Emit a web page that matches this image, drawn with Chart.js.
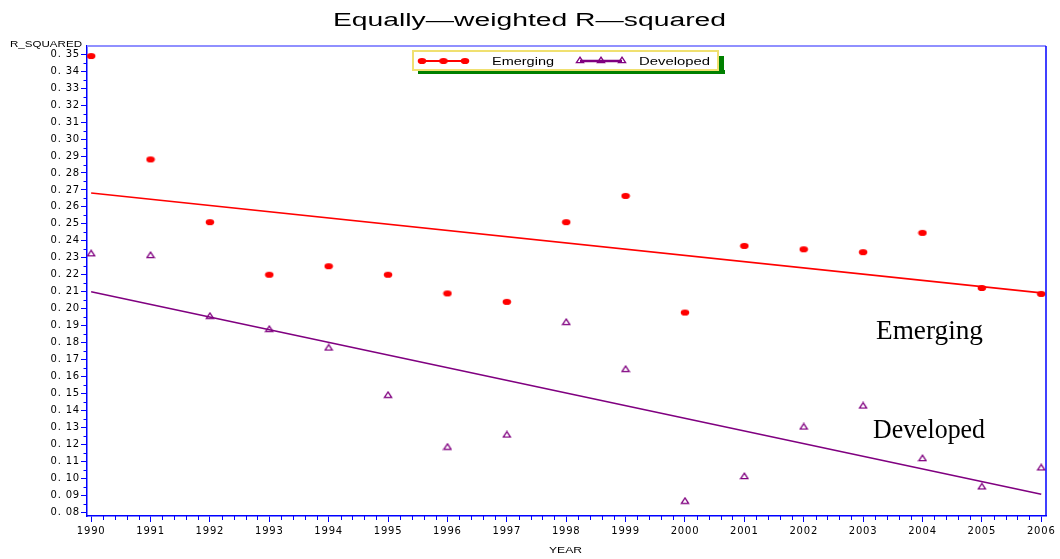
<!DOCTYPE html>
<html>
<head>
<meta charset="utf-8">
<script src="https://cdn.jsdelivr.net/npm/chart.js@4/dist/chart.umd.min.js"></script>
<style>
html,body{margin:0;padding:0;background:#fff;}
#wrap{width:1060px;height:559px;position:relative;}
</style>
</head>
<body>
<div id="wrap"><canvas id="c" width="1060" height="559"></canvas></div>
<script>
// ---- data ----
const years = [1990,1991,1992,1993,1994,1995,1996,1997,1998,1999,2000,2001,2002,2003,2004,2005,2006];
const emerging = [0.349,0.288,0.251,0.220,0.225,0.220,0.209,0.204,0.251,0.2665,0.1977,0.237,0.235,0.2333,0.2447,0.2122,0.2087];
const developed = [0.2327,0.2317,0.1958,0.1881,0.1771,0.1492,0.1186,0.1258,0.1922,0.1645,0.0867,0.1013,0.1305,0.1429,0.1119,0.0952,0.1064];
const trendYears = [1990,2006];
const emergingTrend = [0.2682,0.2093];
const developedTrend = [0.2100,0.0905];
const yTicks = [0.08,0.09,0.10,0.11,0.12,0.13,0.14,0.15,0.16,0.17,0.18,0.19,0.20,0.21,0.22,0.23,0.24,0.25,0.26,0.27,0.28,0.29,0.30,0.31,0.32,0.33,0.34,0.35];
const xTickLabels = years.map(String);
const titleText = 'Equally\u2014weighted R\u2014squared';
const yTitle = 'R_SQUARED';
const xTitle = 'YEAR';
const seriesNames = ['Emerging','Developed'];

// ---- marker images ----
function makeDot(){
  const c=document.createElement('canvas');c.width=10;c.height=8;
  const g=c.getContext('2d');g.fillStyle='#ff0000';g.beginPath();g.ellipse(5,4,4.3,3.1,0,0,Math.PI*2);g.fill();return c;
}
function makeTri(){
  const c=document.createElement('canvas');c.width=10;c.height=8;
  const g=c.getContext('2d');g.strokeStyle='#800080';g.lineWidth=1.3;g.beginPath();
  g.moveTo(5,1.2);g.lineTo(8.6,6.6);g.lineTo(1.4,6.6);g.closePath();g.stroke();return c;
}
const dotImg=makeDot(), triImg=makeTri();

function fitText(ctx,text,x,y,w,font,color){
  ctx.save();ctx.font=font;ctx.fillStyle=color;ctx.textBaseline='alphabetic';ctx.textAlign='left';
  const m=ctx.measureText(text).width;const s=w/m;
  ctx.translate(x,y);ctx.scale(s,1);ctx.fillText(text,0,0);ctx.restore();
}

const decor = {
  id:'decor',
  beforeDraw(chart){ chart.ctx.letterSpacing='0.8px'; },
  afterDraw(chart){
    const ctx=chart.ctx; ctx.letterSpacing='0px';
    const a=chart.chartArea, xs=chart.scales.x, ys=chart.scales.y;
    ctx.save();
    // top and right frame
    ctx.strokeStyle='#9090ff';ctx.lineWidth=2;ctx.beginPath();ctx.moveTo(a.left,a.top);ctx.lineTo(a.right,a.top);ctx.stroke();
    ctx.strokeStyle='#0000ff';ctx.lineWidth=1.5;ctx.beginPath();ctx.moveTo(a.right,a.top);ctx.lineTo(a.right,a.bottom);ctx.stroke();
    // minor ticks
    ctx.strokeStyle='#0000ff';ctx.lineWidth=1;ctx.beginPath();
    for(let i=0;i<yTicks.length;i++){
      const v=yTicks[i]+0.005; if(v>ys.max) continue;
      const p=Math.round(ys.getPixelForValue(v))+0.5; ctx.moveTo(a.left-3.5,p);ctx.lineTo(a.left,p);
    }
    for(let i=0;i<years.length-1;i++){
      for(let k=1;k<5;k++){
        const p=Math.round(xs.getPixelForValue(years[i]+k*0.2))+0.5; ctx.moveTo(p,a.bottom);ctx.lineTo(p,a.bottom+4);
      }
    }
    ctx.stroke();
    // titles
    fitText(ctx,titleText,333,26,393,'18px "Liberation Sans", Arial, sans-serif','#000');
    fitText(ctx,yTitle,10,47,72,'9px "Liberation Sans", Arial, sans-serif','#000');
    fitText(ctx,xTitle,549,553,33,'9px "Liberation Sans", Arial, sans-serif','#000');
    // legend
    const L=413,T=51,R=718,B=70;
    ctx.fillStyle='#008000';ctx.fillRect(L+5,B,R-L+2,4);ctx.fillRect(R,T+5,6,B-T-1);
    ctx.fillStyle='#fff';ctx.fillRect(L,T,R-L,B-T);
    ctx.strokeStyle='#f0e070';ctx.lineWidth=2;ctx.strokeRect(L,T,R-L,B-T);
    const ly=61;
    ctx.strokeStyle='#ff0000';ctx.lineWidth=2;ctx.beginPath();ctx.moveTo(422,ly);ctx.lineTo(465,ly);ctx.stroke();
    [422,443.5,465].forEach(x=>ctx.drawImage(dotImg,x-5,ly-4));
    ctx.strokeStyle='#800080';ctx.lineWidth=2.5;ctx.beginPath();ctx.moveTo(580,ly);ctx.lineTo(622,ly);ctx.stroke();
    [580,601,622].forEach(x=>ctx.drawImage(triImg,x-5,ly-5));
    fitText(ctx,seriesNames[0],492,65,62,'10px "Liberation Sans", Arial, sans-serif','#000');
    fitText(ctx,seriesNames[1],639,65,71,'10px "Liberation Sans", Arial, sans-serif','#000');
    // annotations
    ctx.font='27px "Liberation Serif", "Times New Roman", serif';ctx.fillStyle='#000';ctx.textAlign='left';ctx.textBaseline='alphabetic';
    fitText(ctx,seriesNames[0],876,339,107,'27px "Liberation Serif", "Times New Roman", serif','#000');
    fitText(ctx,seriesNames[1],873,438,112,'27px "Liberation Serif", "Times New Roman", serif','#000');
    ctx.restore();
  }
};

const toXY=(xs,ys)=>xs.map((x,i)=>({x:x,y:ys[i]}));

new Chart(document.getElementById('c'),{
  type:'scatter',
  data:{datasets:[
    {label:seriesNames[0]+' trend',type:'line',data:toXY(trendYears,emergingTrend),borderColor:'#ff0000',borderWidth:1.6,pointRadius:0,fill:false,order:2},
    {label:seriesNames[1]+' trend',type:'line',data:toXY(trendYears,developedTrend),borderColor:'#800080',borderWidth:1.6,pointRadius:0,fill:false,order:2},
    {label:seriesNames[0],data:toXY(years,emerging),pointStyle:dotImg,pointRadius:4,order:1},
    {label:seriesNames[1],data:toXY(years,developed),pointStyle:triImg,pointRadius:4,order:1}
  ]},
  options:{
    responsive:false,animation:false,
    layout:{padding:{top:46,right:14,left:0,bottom:0}},
    plugins:{legend:{display:false},title:{display:false},tooltip:{enabled:false}},
    scales:{
      x:{type:'linear',min:1989.93,max:2006.08,
        afterBuildTicks:s=>{s.ticks=years.map(v=>({value:v}));},
        afterFit:s=>{s.height=43;},
        ticks:{callback:(v)=>{const i=years.indexOf(v);return i>=0?xTickLabels[i]:'';},font:{family:'"DejaVu Sans", sans-serif',size:10},color:'#000',padding:3,maxRotation:0,autoSkip:false},
        grid:{drawOnChartArea:false,drawTicks:true,tickLength:6,color:'#0000ff',lineWidth:1},
        border:{display:true,color:'#0000ff',width:1.5}
      },
      y:{type:'linear',min:0.0777,max:0.3549,
        afterBuildTicks:s=>{s.ticks=yTicks.map(v=>({value:v}));},
        afterFit:s=>{s.width=87;},
        ticks:{callback:(v)=>{const t=v.toFixed(2);return t.replace('.', '. ');},font:{family:'"DejaVu Sans", sans-serif',size:10},color:'#000',padding:1,autoSkip:false},
        grid:{drawOnChartArea:false,drawTicks:true,tickLength:6,color:'#0000ff',lineWidth:1},
        border:{display:true,color:'#0000ff',width:1.5}
      }
    }
  },
  plugins:[decor]
});
</script>
</body>
</html>
